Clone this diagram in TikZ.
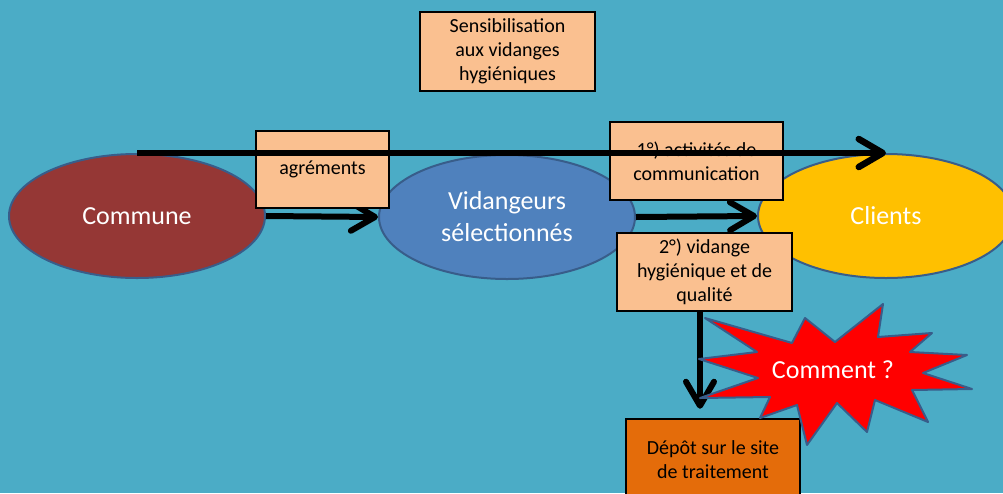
\documentclass[tikz,border=0pt]{standalone}
\usepackage{fontspec}
\setmainfont{Carlito}
\usetikzlibrary{shapes.geometric,arrows.meta}
\definecolor{bg}{RGB}{75,172,198}
\definecolor{peach}{RGB}{250,192,144}
\definecolor{communered}{RGB}{149,55,53}
\definecolor{vidblue}{RGB}{79,129,189}
\definecolor{clientyellow}{RGB}{255,192,0}
\definecolor{edgeblue}{RGB}{56,93,138}
\definecolor{depotorange}{RGB}{228,108,10}
\begin{document}
\begin{tikzpicture}[x=1pt,y=-1pt,
  oval/.style={ellipse, draw=edgeblue, line width=2pt, minimum width=256pt, minimum height=124pt, inner sep=0pt, text=white, font=\fontsize{26}{32}\selectfont, align=center},
  box/.style={draw=black, line width=2.5pt, fill=peach, font=\fontsize{20}{24}\selectfont, align=center, inner sep=0pt},
  arr/.style={line width=6pt, -{Straight Barb[length=24pt,width=28pt,round]}},
  lbl/.style={font=\fontsize{20}{24}\selectfont, align=center, inner sep=0pt}]
\useasboundingbox (0,0) rectangle (1003,493);
\clip (0,0) rectangle (1003,493);
\fill[bg] (0,0) rectangle (1003,493);

% ellipses
\node[oval, fill=communered] (commune) at (137,216) {Commune};
\node[oval, fill=vidblue] (vidangeurs) at (507,217) {Vidangeurs\\sélectionnés};
\node[oval, fill=clientyellow] (clients) at (886,216) {Clients};

% short arrows (under the boxes)
\draw[arr] (commune.east) -- (vidangeurs.west);
\draw[arr] (vidangeurs.east) -- (clients.west);

% boxes
\node[box, minimum width=175pt, minimum height=79pt] (sensib) at (507.5,51.5) {Sensibilisation\\aux vidanges\\hygiéniques};
\node[box, minimum width=133pt, minimum height=77pt] (agrements) at (322.5,169.5) {agréments};
\node[box, minimum width=173pt, minimum height=78pt] (comm) at (696.5,161) {1°) activités de\\communication};
\node[box, minimum width=175pt, minimum height=78pt] (vidange) at (704.5,272) {2°) vidange\\hygiénique et de\\qualité};
\node[box, fill=depotorange, minimum width=174pt, minimum height=91pt] (depot) at (713,464.5) {};
\node[lbl] (depottext) at (713,459.5) {Dépôt sur le site\\de traitement};

% long top arrow (over the boxes)
\draw[arr, line width=6.5pt] (commune.north) -- (clients.north);

% down arrow
\coordinate (downx) at (700,0);
\draw[arr, shorten >=9pt] (vidange.south -| downx) -- (depot.north -| downx);

% starburst
\path[fill=red, draw=edgeblue, line width=2pt, line join=round]
  (705,318) -- (792,343) -- (805,318) -- (835,342) -- (883,304) -- (878,337)
  -- (932,333) -- (910,352) -- (967,355) -- (923,373) -- (972,389) -- (912,390)
  -- (928,422) -- (875,400) -- (867,432) -- (837,403) -- (807,445) -- (797,405)
  -- (760,418) -- (770,397) -- (700,398) -- (758,378) -- (699,359) -- (757,352) -- cycle;
\node[text=white, font=\fontsize{26}{32}\selectfont, inner sep=0pt] (comment) at (833,370) {Comment ?};
\end{tikzpicture}
\end{document}
